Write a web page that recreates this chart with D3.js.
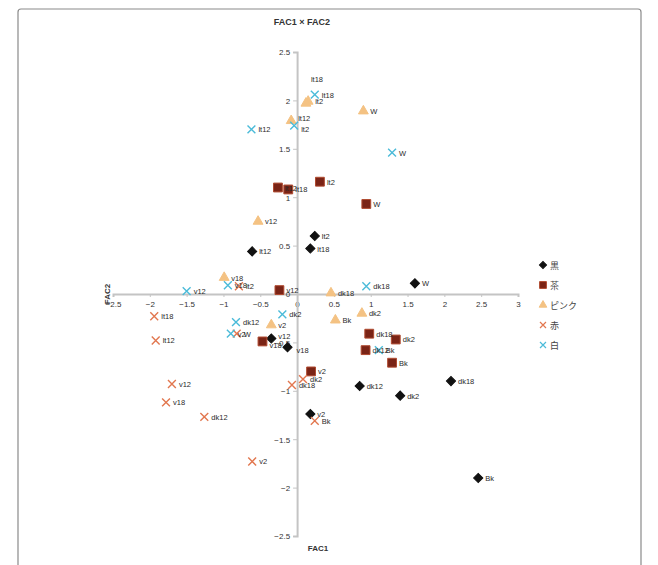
<!DOCTYPE html>
<html>
<head>
<meta charset="utf-8">
<script src="https://cdn.jsdelivr.net/npm/d3@7"></script>
<style>
  body { margin: 0; background: #fff; }
  svg { font-family: "Liberation Sans", "Noto Sans CJK JP", sans-serif; }
</style>
</head>
<body>
<div id="chart"></div>
<script>
// FAC1 x FAC2 scores
var seriesNames = ["黒", "茶", "ピンク", "赤", "白"];

var kuroPoints = [
  ["W", 1.60, 0.11], ["lt2", 0.24, 0.60], ["lt18", 0.18, 0.47], ["lt12", -0.61, 0.44],
  ["dk18", 2.09, -0.90], ["dk12", 0.85, -0.95], ["dk2", 1.40, -1.05], ["Bk", 2.46, -1.90],
  ["v2", 0.18, -1.24], ["v12", -0.35, -0.46], ["v18", -0.13, -0.55]
];
var chaPoints = [
  ["lt2", 0.31, 1.16], ["W", 0.94, 0.93], ["lt12", -0.26, 1.10], ["lt18", -0.12, 1.08],
  ["v12", -0.24, 0.04], ["dk18", 0.98, -0.41], ["dk2", 1.34, -0.47], ["dk12", 0.93, -0.58],
  ["Bk", 1.29, -0.71], ["v2", 0.19, -0.80], ["v18", -0.47, -0.49]
];
var pinkPoints = [
  ["lt2", 0.15, 1.99], ["W", 0.90, 1.89], ["lt12", -0.08, 1.79], ["lt18", 0.12, 1.97],
  ["v12", -0.53, 0.75], ["v18", -0.99, 0.17], ["dk18", 0.46, 0.01], ["dk2", 0.88, -0.20],
  ["Bk", 0.52, -0.27], ["v2", -0.35, -0.32]
];
var akaPoints = [
  ["lt18", -1.94, -0.23], ["lt12", -1.92, -0.48], ["v12", -1.70, -0.93], ["v18", -1.78, -1.12],
  ["dk12", -1.26, -1.27], ["v2", -0.61, -1.73], ["dk18", -0.07, -0.94], ["dk2", 0.08, -0.88],
  ["Bk", 0.24, -1.31], ["W", -0.82, -0.41], ["lt2", -0.79, 0.08]
];
var shiroPoints = [
  ["lt18", 0.24, 2.06], ["lt12", -0.62, 1.70], ["lt2", -0.04, 1.74], ["W", 1.29, 1.46],
  ["dk18", 0.94, 0.08], ["v12", -1.50, 0.03], ["v18", -0.94, 0.09], ["dk2", -0.20, -0.21],
  ["dk12", -0.83, -0.29], ["v2", -0.90, -0.41], ["Bk", 1.11, -0.58]
];

var xTicks = [-2.5, -2, -1.5, -1, -0.5, 0, 0.5, 1, 1.5, 2, 2.5, 3];
var yTicks = [-2.5, -2, -1.5, -1, -0.5, 0, 0.5, 1, 1.5, 2, 2.5];

var allPoints = [kuroPoints, chaPoints, pinkPoints, akaPoints, shiroPoints];

var width = 658, height = 565;
var colors = ["#111111", "#7a2416", "#f4c283", "#e2774f", "#4bbbd9"];
var strokes = ["#111111", "#b04a30", "#f4c283", "#e2774f", "#4bbbd9"];
var symbols = [d3.symbolSquare, d3.symbolSquare, d3.symbolTriangle, d3.symbolTimes, d3.symbolTimes];
var rotate = [45, 0, 0, 0, 0];
var sizes = [42, 78, 42, 42, 42];

var x = d3.scaleLinear().domain([-2.5, 3]).range([113, 518]);
var y = d3.scaleLinear().domain([-2.5, 2.5]).range([536, 52]);

var svg = d3.select("#chart").append("svg")
  .attr("width", width).attr("height", height);

svg.append("rect")
  .attr("x", 18).attr("y", 9).attr("width", 623).attr("height", 575)
  .attr("rx", 3)
  .attr("fill", "none").attr("stroke", "#8a8a8a").attr("stroke-width", 1.2);

svg.append("text")
  .attr("x", 302).attr("y", 25)
  .attr("text-anchor", "middle")
  .attr("font-size", 9).attr("font-weight", "bold").attr("fill", "#333")
  .text("FAC1 × FAC2");

// axes crossing at zero
var xAxis = d3.axisBottom(x).tickValues(xTicks).tickSize(3).tickPadding(4)
  .tickFormat(d3.format("~g"));
var yAxis = d3.axisLeft(y).tickValues(yTicks).tickSize(4).tickPadding(3)
  .tickFormat(d3.format("~g"));

var gx = svg.append("g").attr("transform", "translate(0," + y(0) + ")").call(xAxis);
var gy = svg.append("g").attr("transform", "translate(" + x(0) + ",0)").call(yAxis);

[gx, gy].forEach(function(g) {
  g.select(".domain").attr("stroke", "#c4c4c4").attr("stroke-width", 2);
  g.selectAll(".tick line").attr("stroke", "#c4c4c4").attr("stroke-width", 1);
  g.selectAll(".tick text").attr("font-size", 8).attr("fill", "#333")
    .attr("font-family", "Liberation Sans, sans-serif");
});
gy.selectAll(".tick text").attr("dy", "0.35em");

svg.append("text")
  .attr("transform", "translate(110," + y(0) + ") rotate(-90)")
  .attr("text-anchor", "middle")
  .attr("font-size", 8).attr("font-weight", "bold").attr("fill", "#333")
  .text("FAC2");

svg.append("text")
  .attr("x", 318).attr("y", 551)
  .attr("text-anchor", "middle")
  .attr("font-size", 8).attr("font-weight", "bold").attr("fill", "#333")
  .text("FAC1");

function marker(sel, i) {
  sel.attr("d", d3.symbol().type(symbols[i]).size(sizes[i]))
    .attr("fill", i >= 3 ? "none" : colors[i])
    .attr("stroke", strokes[i])
    .attr("stroke-width", i >= 3 ? 1.4 : 1);
}

// a few label nudges where the reference moved labels apart
var labelNudge = {
  "2:lt18": [-2, -24], "2:lt12": [0, -3], "4:lt2": [0, 3],
  "0:v12": [0, -3], "1:v18": [0, 4], "0:v18": [2, 3]
};

var gMarks = svg.append("g");
allPoints.forEach(function(pts, i) {
  gMarks.selectAll(".s" + i).data(pts).enter()
    .append("path")
    .attr("class", "s" + i)
    .attr("transform", function(d) {
      return "translate(" + x(d[1]) + "," + y(d[2]) + ") rotate(" + rotate[i] + ")";
    })
    .call(marker, i);
});

var gLabels = svg.append("g");
allPoints.forEach(function(pts, i) {
  gLabels.selectAll(".l" + i).data(pts).enter()
    .append("text")
    .attr("class", "l" + i)
    .attr("x", function(d) {
      var n = labelNudge[i + ":" + d[0]];
      return x(d[1]) + 7 + (n ? n[0] : 0);
    })
    .attr("y", function(d) {
      var n = labelNudge[i + ":" + d[0]];
      return y(d[2]) + 3 + (n ? n[1] : 0);
    })
    .attr("font-size", 7.5)
    .attr("fill", "#2a2a2a")
    .text(function(d) { return d[0]; });
});

// legend
var legend = svg.append("g").attr("transform", "translate(543,265)");
seriesNames.forEach(function(name, i) {
  var g = legend.append("g").attr("transform", "translate(0," + i * 20 + ")");
  g.append("path")
    .attr("transform", "rotate(" + rotate[i] + ")")
    .attr("d", d3.symbol().type(symbols[i]).size(sizes[i] * 0.6))
    .attr("fill", i >= 3 ? "none" : colors[i])
    .attr("stroke", strokes[i])
    .attr("stroke-width", i >= 3 ? 1.2 : 1);
  g.append("text")
    .attr("x", 7).attr("y", 3.5)
    .attr("font-size", 9).attr("fill", "#444")
    .attr("font-family", "Noto Sans CJK JP, sans-serif")
    .text(name);
});
</script>
</body>
</html>
